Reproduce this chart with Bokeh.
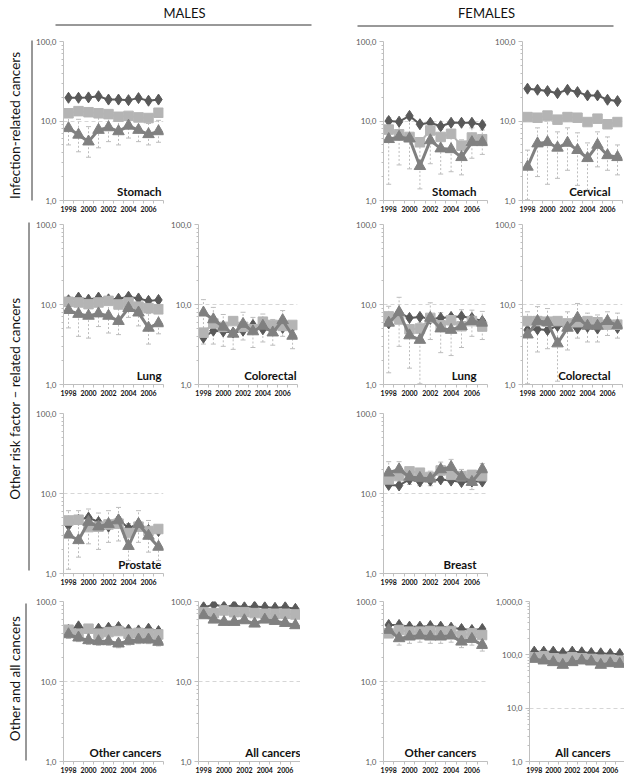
from bokeh.plotting import figure
from bokeh.models import (Range1d, FixedTicker, Label, Whisker, TeeHead,
                          ColumnDataSource, Spacer)
from bokeh.layouts import row, column
from bokeh.embed import file_html
from bokeh.resources import INLINE
import math

# ---------------- data ----------------
years = [1998, 1999, 2000, 2001, 2002, 2003, 2004, 2005, 2006, 2007]
x_ticks = [1998, 2000, 2002, 2004, 2006]
x_tick_labels = ["1998", "2000", "2002", "2004", "2006"]
y_ticks_2 = [1, 10, 100]
y_tick_labels_2 = ["1,0", "10,0", "100,0"]
y_ticks_3 = [1, 10, 100, 1000]
y_tick_labels_3 = ["1,0", "10,0", "100,0", "1,000,0"]

sex_titles = ["MALES", "FEMALES"]
group_titles = ["Infection-related cancers", "Other risk factor \u2013 related cancers", "Other and all cancers"]

# Males – stomach
m_stomach_d = [19.6, 19.6, 19.8, 20.5, 18.6, 18.6, 18.3, 19.4, 18.0, 18.6]
m_stomach_s = [12.5, 13.3, 12.9, 12.5, 12.2, 11.3, 11.6, 11.1, 10.9, 12.7]
m_stomach_t = [8.1, 6.7, 5.5, 7.7, 8.3, 7.4, 8.7, 7.7, 6.8, 7.4]
m_stomach_lo = [5.0, 4.1, 3.5, 4.6, 5.5, 5.0, 6.1, 5.5, 5.0, 5.4]
m_stomach_hi = [12.5, 10.5, 8.5, 12.5, 12.3, 11.0, 12.4, 10.8, 9.3, 10.2]

# Females – stomach
f_stomach_d = [10.0, 9.8, 11.6, 9.1, 9.5, 8.6, 9.5, 9.5, 9.5, 8.9]
f_stomach_s = [7.8, 6.8, 6.3, 5.4, 7.6, 6.3, 6.9, 4.9, 6.2, 5.9]
f_stomach_t = [5.9, 6.3, 6.0, 2.7, 5.7, 4.5, 4.4, 3.5, 5.4, 5.4]
f_stomach_lo = [1.6, 2.8, 2.5, 1.4, 2.9, 2.15, 2.3, 2.1, 3.4, 3.8]
f_stomach_hi = [11.0, 10.0, 10.5, 5.2, 9.8, 7.8, 7.5, 5.8, 8.2, 7.7]

# Females – cervical
f_cervical_d = [25.5, 24.7, 23.8, 22.4, 24.7, 23.1, 21.0, 21.0, 18.5, 17.8]
f_cervical_s = [11.2, 11.0, 11.7, 10.4, 11.2, 11.0, 9.7, 10.7, 9.1, 9.7]
f_cervical_t = [2.65, 5.2, 5.4, 4.6, 5.3, 4.3, 3.4, 5.0, 3.7, 3.5]
f_cervical_lo = [1.02, 2.0, 1.6, 1.9, 2.4, 1.55, 1.35, 2.65, 2.4, 2.1]
f_cervical_hi = [4.3, 8.2, 10.0, 7.3, 8.2, 7.1, 5.3, 7.3, 6.3, 5.0]

# Males – lung
m_lung_d = [11.3, 12.2, 11.5, 12.2, 11.6, 11.8, 12.5, 11.9, 11.1, 11.4]
m_lung_s = [10.8, 10.6, 10.1, 10.6, 11.1, 10.0, 10.6, 9.4, 9.0, 8.7]
m_lung_t = [8.5, 7.6, 7.2, 7.7, 7.2, 6.2, 9.0, 7.9, 5.1, 5.8]
m_lung_lo = [5.1, 4.0, 3.8, 5.3, 4.4, 4.2, 6.9, 5.4, 3.2, 4.3]
m_lung_hi = [12.5, 11.5, 11.0, 11.5, 11.2, 9.5, 12.5, 11.5, 7.7, 8.5]

# Males – colorectal
m_colorectal_d = [3.85, 4.7, 4.6, 4.45, 4.7, 5.55, 4.9, 4.8, 5.1, 5.25]
m_colorectal_s = [4.45, 5.8, 5.25, 6.2, 5.25, 4.9, 6.1, 5.55, 5.4, 5.55]
m_colorectal_t = [7.9, 6.5, 5.25, 4.3, 5.7, 4.6, 5.4, 4.45, 6.35, 4.05]
m_colorectal_lo = [3.2, 3.2, 3.0, 2.75, 3.6, 2.9, 3.4, 3.1, 4.0, 2.8]
m_colorectal_hi = [11.5, 9.2, 7.5, 6.8, 8.0, 6.9, 7.6, 6.5, 8.4, 6.0]

# Females – lung
f_lung_d = [5.8, 7.9, 6.8, 7.0, 6.6, 6.8, 7.0, 7.1, 6.8, 6.2]
f_lung_s = [7.1, 6.5, 4.9, 5.0, 6.8, 5.5, 6.35, 5.35, 6.2, 5.3]
f_lung_t = [5.9, 8.0, 4.1, 3.6, 6.8, 5.0, 4.8, 5.35, 6.2, 5.9]
f_lung_lo = [1.4, 3.0, 1.6, 1.02, 3.65, 2.5, 2.3, 2.9, 4.0, 3.65]
f_lung_hi = [9.5, 12.3, 7.1, 5.9, 10.5, 7.9, 7.5, 8.6, 8.5, 8.2]

# Females – colorectal
f_colorectal_d = [4.8, 4.9, 4.8, 5.4, 5.4, 5.0, 5.25, 5.0, 5.8, 5.1]
f_colorectal_s = [6.2, 6.2, 6.1, 6.2, 5.8, 6.0, 6.2, 6.0, 5.6, 5.6]
f_colorectal_t = [4.2, 6.2, 6.0, 3.25, 5.1, 6.8, 5.4, 5.4, 6.2, 5.5]
f_colorectal_lo = [1.02, 2.55, 2.8, 1.1, 2.7, 3.8, 3.4, 3.4, 4.1, 3.8]
f_colorectal_hi = [8.1, 9.4, 8.9, 6.1, 8.1, 10.3, 7.8, 7.4, 8.1, 7.8]

# Males – prostate
m_prostate_d = [4.0, 4.7, 5.0, 4.4, 3.85, 4.7, 3.7, 4.2, 3.5, 3.4]
m_prostate_s = [4.6, 4.7, 3.8, 3.85, 4.1, 4.2, 3.2, 3.85, 3.4, 3.6]
m_prostate_t = [3.05, 2.6, 4.4, 3.85, 4.15, 4.6, 2.2, 4.15, 2.95, 2.15]
m_prostate_lo = [1.13, 1.6, 2.35, 2.0, 2.45, 2.55, 1.45, 2.45, 1.85, 1.45]
m_prostate_hi = [6.1, 6.1, 6.4, 5.7, 6.1, 6.7, 4.2, 6.1, 4.6, 3.8]

# Females – breast
f_breast_d = [12.8, 12.6, 15.0, 14.1, 14.5, 15.0, 14.5, 13.9, 14.1, 14.1]
f_breast_s = [15.0, 16.5, 18.9, 18.2, 16.1, 19.4, 17.1, 16.5, 17.1, 16.5]
f_breast_t = [18.2, 20.0, 16.1, 15.6, 15.3, 20.0, 21.4, 16.1, 13.9, 20.0]
f_breast_lo = [14.5, 16.0, 13.0, 12.5, 12.5, 16.5, 17.5, 13.0, 11.2, 16.5]
f_breast_hi = [25.0, 25.0, 20.0, 19.5, 19.0, 24.7, 26.7, 20.0, 17.2, 23.6]

# Males – other cancers
m_other_d = [44.4, 48.9, 44.4, 45.7, 47.0, 48.0, 44.4, 43.5, 45.7, 42.7]
m_other_s = [44.4, 39.6, 45.7, 39.6, 41.5, 42.7, 39.6, 40.5, 39.6, 38.8]
m_other_t = [38.8, 35.3, 32.7, 31.8, 31.8, 29.7, 32.1, 33.3, 33.3, 31.2]
m_other_lo = [34.5, 31.5, 29.0, 28.3, 28.3, 26.4, 28.6, 29.7, 29.7, 27.8]
m_other_hi = [43.5, 39.6, 36.7, 35.7, 35.7, 33.3, 36.0, 37.4, 37.4, 35.0]

# Males – all cancers
m_all_d = [85.0, 90.8, 86.6, 89.0, 85.0, 86.6, 85.0, 83.4, 85.0, 81.0]
m_all_s = [73.6, 71.6, 77.3, 73.6, 73.6, 71.6, 70.2, 70.2, 70.2, 68.9]
m_all_t = [67.0, 59.1, 55.3, 55.3, 58.0, 52.7, 59.1, 56.9, 53.7, 50.3]
m_all_lo = [62.0, 54.5, 51.0, 51.0, 53.5, 48.6, 54.5, 52.5, 49.5, 46.4]
m_all_hi = [72.5, 64.0, 59.9, 59.9, 62.8, 57.1, 64.0, 61.6, 58.2, 54.5]

# Females – other cancers
f_other_d = [50.9, 50.9, 48.5, 48.5, 49.4, 48.5, 47.1, 45.3, 44.0, 45.3]
f_other_s = [40.0, 44.0, 42.0, 42.0, 42.8, 42.0, 42.8, 37.4, 40.0, 38.1]
f_other_t = [44.0, 34.6, 36.3, 37.4, 36.3, 36.3, 37.4, 31.4, 33.9, 28.5]
f_other_lo = [38.0, 28.5, 30.0, 31.0, 30.0, 30.0, 31.0, 26.5, 28.5, 24.0]
f_other_hi = [50.5, 41.0, 43.0, 44.0, 43.0, 43.0, 44.0, 37.0, 40.0, 33.5]

# Females – all cancers
f_all_d = [114.8, 114.8, 114.8, 108.0, 114.8, 111.6, 108.0, 107.0, 103.8, 103.8]
f_all_s = [89.9, 93.8, 86.0, 83.6, 89.9, 86.0, 83.6, 81.3, 81.3, 77.8]
f_all_t = [83.6, 77.8, 72.4, 64.5, 72.4, 77.8, 74.5, 64.5, 69.3, 67.3]
f_all_lo = [77.0, 71.5, 66.5, 59.0, 66.5, 71.5, 68.5, 59.0, 63.5, 61.8]
f_all_hi = [90.5, 84.5, 78.5, 70.3, 78.5, 84.5, 80.8, 70.3, 75.3, 73.0]

# ---------------- style ----------------
FONT = "Lato"
C_D = "#595959"
C_S = "#b4b4b4"
C_T = "#808080"
C_ERR = "#bdbdbd"
C_AX = "#bfbfbf"
FH = 160


def panel(name, d, s, t, lo, hi, yticks, ylabels, fw, bl, br, bt, bb, lab_off):
    ymin, ymax = yticks[0], yticks[-1]
    p = figure(width=bl + fw + br, height=bt + FH + bb,
               x_range=Range1d(years[0] - 0.5, years[-1] + 0.5),
               y_range=Range1d(ymin, ymax), y_axis_type="log",
               output_backend="svg", toolbar_location=None,
               min_border_left=bl, min_border_right=br,
               min_border_top=bt, min_border_bottom=bb)
    p.outline_line_color = None
    p.background_fill_color = "white"
    p.border_fill_color = "white"

    xa = p.xaxis[0]
    xa.ticker = FixedTicker(ticks=x_ticks,
                            minor_ticks=[y - 0.5 for y in years] + [years[-1] + 0.5])
    xa.major_label_overrides = dict(zip([float(v) for v in x_ticks], x_tick_labels))
    xa.major_tick_out = 0
    xa.major_tick_in = 0
    xa.minor_tick_out = 3
    xa.minor_tick_in = 0
    xa.axis_line_color = C_AX
    xa.minor_tick_line_color = C_AX
    xa.major_label_text_font = FONT
    xa.major_label_text_font_size = "7px"
    xa.major_label_text_font_style = "bold"
    xa.major_label_text_color = "#111111"
    xa.major_label_standoff = 2

    ndec = int(round(math.log10(ymax / ymin)))
    ya = p.yaxis[0]
    ya.ticker = FixedTicker(ticks=yticks,
                            minor_ticks=[m * 10 ** k for k in range(ndec) for m in range(2, 10)])
    ya.major_label_overrides = dict(zip([float(v) for v in yticks], ylabels))
    ya.major_tick_out = 4
    ya.major_tick_in = 0
    ya.minor_tick_out = 2
    ya.minor_tick_in = 0
    ya.axis_line_color = C_AX
    ya.major_tick_line_color = C_AX
    ya.minor_tick_line_color = C_AX
    ya.major_label_text_font = FONT
    ya.major_label_text_font_size = "8px"
    ya.major_label_text_color = "#595959"
    ya.major_label_standoff = 3

    p.xgrid.visible = False
    p.ygrid.ticker = FixedTicker(ticks=yticks[1:])
    p.ygrid.grid_line_color = "#d6d6d6"
    p.ygrid.grid_line_dash = "4 3"

    src = ColumnDataSource(dict(x=years, lo=lo, hi=hi))
    w = Whisker(base="x", lower="lo", upper="hi", source=src, level="underlay",
                line_color=C_ERR, line_dash="2 2", line_width=1,
                upper_head=TeeHead(size=5, line_color=C_ERR, line_width=1),
                lower_head=TeeHead(size=5, line_color=C_ERR, line_width=1))
    p.add_layout(w)

    p.line(years, d, line_color=C_D, line_width=2)
    p.scatter(years, d, marker="diamond", size=11, fill_color=C_D, line_color=C_D)
    p.line(years, s, line_color=C_S, line_width=2)
    p.scatter(years, s, marker="square", size=9.5, fill_color=C_S, line_color=C_S)
    p.line(years, t, line_color=C_T, line_width=3)
    p.scatter(years, t, marker="triangle", size=11.5, fill_color=C_T, line_color=C_T)

    ly = ymin * 10 ** (3 * ndec / FH)
    p.add_layout(Label(x=years[-1] + 0.5, y=ly, x_offset=-lab_off, text=name,
                       text_align="right", text_baseline="bottom", text_font=FONT,
                       text_font_style="bold", text_font_size="11.5px",
                       text_color="#111111"))
    return p


# row geometry: (bt, bb)
R1 = (10, 13)
R2 = (10, 19)
R3 = (10, 18)
R4 = (10, 14)
W_LEFT, W_M1, W_M2, W_GAP, W_F1, W_F2 = 33, 135, 132, 53, 139, 132


def m1(name, d, s, t, lo, hi, r):
    return panel(name, d, s, t, lo, hi, y_ticks_2, y_tick_labels_2, 101, 29, 5, r[0], r[1], 2)


def m2(name, d, s, t, lo, hi, r, bl=29, fw=100, br=3, off=1):
    return panel(name, d, s, t, lo, hi, y_ticks_2, y_tick_labels_2, fw, bl, br, r[0], r[1], off)


def f1(name, d, s, t, lo, hi, r):
    return panel(name, d, s, t, lo, hi, y_ticks_2, y_tick_labels_2, 105, 29, 5, r[0], r[1], 11)


def f2(name, d, s, t, lo, hi, r, yt=y_ticks_2, yl=y_tick_labels_2, bl=28, fw=102, br=2, off=12):
    return panel(name, d, s, t, lo, hi, yt, yl, fw, bl, br, r[0], r[1], off)


def hgt(r):
    return r[0] + FH + r[1]


row1 = row(
    m1("Stomach", m_stomach_d, m_stomach_s, m_stomach_t, m_stomach_lo, m_stomach_hi, R1),
    Spacer(width=W_M2, height=hgt(R1)),
    Spacer(width=W_GAP, height=hgt(R1)),
    f1("Stomach", f_stomach_d, f_stomach_s, f_stomach_t, f_stomach_lo, f_stomach_hi, R1),
    f2("Cervical", f_cervical_d, f_cervical_s, f_cervical_t, f_cervical_lo, f_cervical_hi, R1),
)
row2 = row(
    m1("Lung", m_lung_d, m_lung_s, m_lung_t, m_lung_lo, m_lung_hi, R2),
    m2("Colorectal", m_colorectal_d, m_colorectal_s, m_colorectal_t, m_colorectal_lo, m_colorectal_hi, R2),
    Spacer(width=W_GAP, height=hgt(R2)),
    f1("Lung", f_lung_d, f_lung_s, f_lung_t, f_lung_lo, f_lung_hi, R2),
    f2("Colorectal", f_colorectal_d, f_colorectal_s, f_colorectal_t, f_colorectal_lo, f_colorectal_hi, R2),
)
row3 = row(
    m1("Prostate", m_prostate_d, m_prostate_s, m_prostate_t, m_prostate_lo, m_prostate_hi, R3),
    Spacer(width=W_M2, height=hgt(R3)),
    Spacer(width=W_GAP, height=hgt(R3)),
    f1("Breast", f_breast_d, f_breast_s, f_breast_t, f_breast_lo, f_breast_hi, R3),
    Spacer(width=W_F2, height=hgt(R3)),
)
row4 = row(
    m1("Other cancers", m_other_d, m_other_s, m_other_t, m_other_lo, m_other_hi, R4),
    m2("All cancers", m_all_d, m_all_s, m_all_t, m_all_lo, m_all_hi, R4, bl=30, fw=102, br=0, off=0),
    Spacer(width=W_GAP, height=hgt(R4)),
    f1("Other cancers", f_other_d, f_other_s, f_other_t, f_other_lo, f_other_hi, R4),
    f2("All cancers", f_all_d, f_all_s, f_all_t, f_all_lo, f_all_hi, R4,
       yt=y_ticks_3, yl=y_tick_labels_3, bl=32, fw=100, br=0, off=14),
)

BODY_H = hgt(R1) + hgt(R2) + hgt(R3) + hgt(R4)
TOTAL_W = W_LEFT + W_M1 + W_M2 + W_GAP + W_F1 + W_F2
HEAD_H = 31

# header with sex titles
head = figure(width=TOTAL_W, height=HEAD_H, x_range=Range1d(0, TOTAL_W),
              y_range=Range1d(HEAD_H, 0), output_backend="svg", toolbar_location=None,
              x_axis_location=None, y_axis_location=None,
              min_border=0, min_border_left=0, min_border_right=0,
              min_border_top=0, min_border_bottom=0)
head.outline_line_color = None
head.xgrid.visible = False
head.ygrid.visible = False
for txt, cx, x0, x1, ly in [(sex_titles[0], 184, 55, 311, 24.5), (sex_titles[1], 486, 357, 613, 25.5)]:
    head.add_layout(Label(x=cx, y=12, text=txt, text_align="center", text_baseline="middle",
                          text_font=FONT, text_font_size="13px", text_color="#111111"))
    head.segment(x0=[x0], y0=[ly], x1=[x1], y1=[ly], line_color="#333333", line_width=1)

# left group labels
left = figure(width=W_LEFT, height=BODY_H, x_range=Range1d(0, W_LEFT),
              y_range=Range1d(BODY_H, 0), output_backend="svg", toolbar_location=None,
              x_axis_location=None, y_axis_location=None,
              min_border=0, min_border_left=0, min_border_right=0,
              min_border_top=0, min_border_bottom=0)
left.outline_line_color = None
left.xgrid.visible = False
left.ygrid.visible = False
for txt, cy, lx, y0, y1 in [(group_titles[0], 94, 31.5, 9, 169),
                           (group_titles[1], 367, 28.5, 191, 539),
                           (group_titles[2], 647, 25.5, 572, 729)]:
    left.add_layout(Label(x=14, y=cy, text=txt, angle=math.pi / 2, text_align="center",
                          text_baseline="middle", text_font=FONT, text_font_size="13.5px",
                          text_color="#111111"))
    left.segment(x0=[lx], y0=[y0], x1=[lx], y1=[y1], line_color="#333333", line_width=1)

layout = column(head, row(left, column(row1, row2, row3, row4)))

open("out.html", "w").write(file_html(layout, INLINE))
